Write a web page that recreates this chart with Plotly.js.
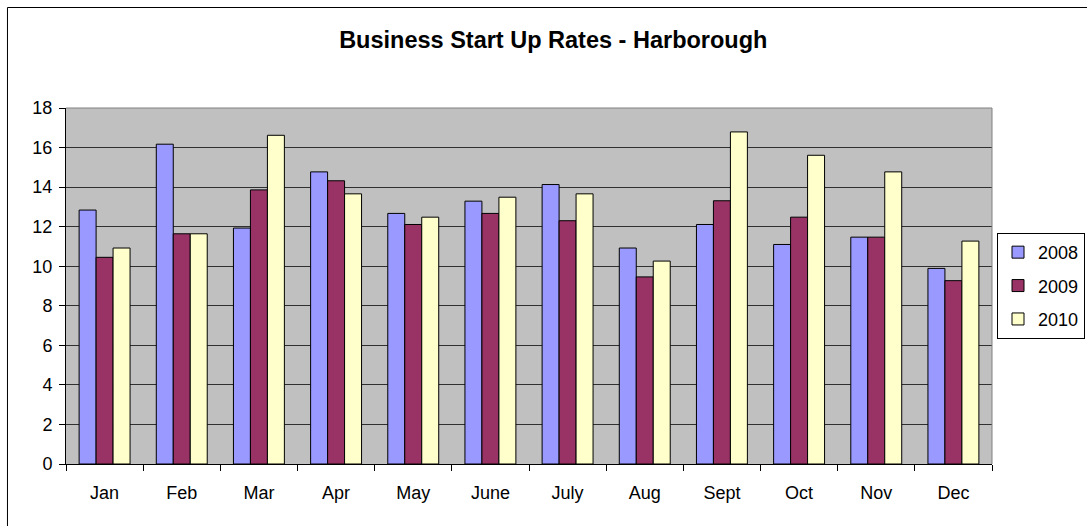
<!DOCTYPE html>
<html>
<head>
<meta charset="utf-8">
<script src="https://cdn.plot.ly/plotly-3.0.1.min.js"></script>
<style>html,body{margin:0;padding:0;background:#fff;}#chart{width:1087px;height:526px;}</style>
</head>
<body>
<div id="chart"></div>
<script>
const months = ["Jan","Feb","Mar","Apr","May","June","July","Aug","Sept","Oct","Nov","Dec"];
const rates2008 = [12.84,16.17,11.93,14.77,12.67,13.29,14.13,10.92,12.11,11.10,11.47,9.89];
const rates2009 = [10.45,11.64,13.86,14.32,12.11,12.67,12.30,9.46,13.31,12.48,11.47,9.27];
const rates2010 = [10.92,11.64,16.62,13.66,12.48,13.49,13.66,10.26,16.79,15.61,14.77,11.27];
const seriesNames = ["2008","2009","2010"];
const seriesColors = ["#9999FF","#993366","#FFFFCC"];
const seriesValues = [rates2008, rates2009, rates2010];

const traces = seriesValues.map((vals, i) => ({
  type: "bar",
  name: seriesNames[i],
  x: months,
  y: vals,
  legendgroup: "g" + i,
  marker: {color: seriesColors[i], line: {color: "#000000", width: 1}},
  hoverinfo: "x+y+name"
}));

const layout = {
  width: 1087, height: 526,
  margin: {l: 66, r: 95, t: 108, b: 62, autoexpand: false},
  paper_bgcolor: "#FFFFFF",
  plot_bgcolor: "#C0C0C0",
  font: {family: "Liberation Sans, Arial, sans-serif", size: 18, color: "#000000"},
  title: {
    text: "<b>Business Start Up Rates - Harborough</b>",
    x: 0.509, xref: "container", xanchor: "center",
    y: 0.924, yref: "container", yanchor: "middle",
    font: {family: "Liberation Sans, Arial, sans-serif", size: 23.5, color: "#000000"}
  },
  barmode: "group",
  bargap: 0.34,
  bargroupgap: 0,
  xaxis: {
    type: "category",
    showline: true, linecolor: "#000000", linewidth: 1,
    ticks: "outside", tickson: "boundaries", ticklen: 6, tickcolor: "#000000",
    showgrid: false, zeroline: false,
    tickfont: {size: 18}, ticklabelstandoff: 12
  },
  yaxis: {
    range: [0, 18], dtick: 2, tick0: 0,
    showline: true, linecolor: "#000000", linewidth: 1,
    ticks: "outside", ticklen: 6, tickcolor: "#000000",
    showgrid: true, gridcolor: "#303030", gridwidth: 1,
    zeroline: false,
    tickfont: {size: 18}, ticklabelstandoff: 3
  },
  showlegend: true,
  legend: {
    x: 1.0054, xanchor: "left", y: 0.649, yanchor: "top",
    bgcolor: "#FFFFFF", bordercolor: "#000000", borderwidth: 1,
    font: {size: 18}, tracegroupgap: 7, traceorder: "grouped",
    itemwidth: 30
  },
  shapes: [
    {type: "line", xref: "paper", yref: "paper", x0: 0, x1: 1, y0: 1, y1: 1, line: {color: "#808080", width: 1}},
    {type: "line", xref: "paper", yref: "paper", x0: 1, x1: 1, y0: 0, y1: 1, line: {color: "#808080", width: 1}},
    {type: "line", xref: "paper", yref: "paper", x0: -0.0632, x1: 1.2, y0: 1.2823, y1: 1.2823, line: {color: "#000000", width: 1}},
    {type: "line", xref: "paper", yref: "paper", x0: -0.0632, x1: -0.0632, y0: -0.3, y1: 1.2823, line: {color: "#000000", width: 1}}
  ]
};

Plotly.newPlot("chart", traces, layout, {displayModeBar: false, staticPlot: true});
</script>
</body>
</html>
